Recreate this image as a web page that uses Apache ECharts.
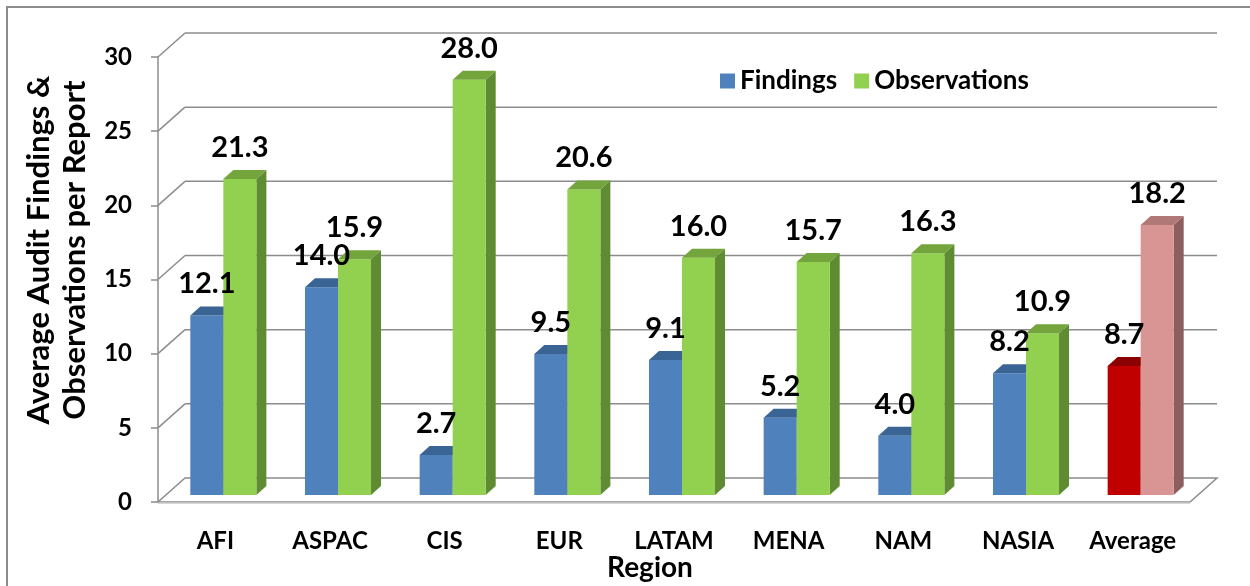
<!DOCTYPE html>
<html>
<head>
<meta charset="utf-8">
<title>Average Audit Findings &amp; Observations per Report</title>
<script src="https://cdn.jsdelivr.net/npm/echarts@6/dist/echarts.min.js"></script>
<style>
  html, body { margin: 0; padding: 0; background: #fff; }
  #chart { width: 1250px; height: 586px; }
</style>
</head>
<body>
<div id="chart"></div>
<script>
// data
var regions = ['AFI', 'ASPAC', 'CIS', 'EUR', 'LATAM', 'MENA', 'NAM', 'NASIA', 'Average'];
var findings = [12.1, 14.0, 2.7, 9.5, 9.1, 5.2, 4.0, 8.2, 8.7];
var observations = [21.3, 15.9, 28.0, 20.6, 16.0, 15.7, 16.3, 10.9, 18.2];
var yTicks = [0, 5, 10, 15, 20, 25, 30];

// fake 3d offsets (px)
var wallDepth = [27, -24];
var barShift = [8, -7];
var barDepth = [10, -9];

var findColor = { front: '#4F81BD', top: '#3A6493', side: '#375C88' };
var obsColor = { front: '#92D050', top: '#74A53D', side: '#5F8B32' };
var avgFindColor = { front: '#C00000', top: '#8B0000', side: '#900000' };
var avgObsColor = { front: '#D99594', top: '#B07877', side: '#8C5F5E' };

var gridColor = '#8C8C8C';

// front face box of one bar, side = -1 left of centre, 1 right of centre
function barBox(api, side) {
	var idx = api.value(0);
	var v = api.value(1);
	var base = api.coord([idx, 0]);
	var top = api.coord([idx, v]);
	var w = api.size([1, 0])[0] * 0.288;
	var x0 = base[0] + barShift[0] + (side < 0 ? -w : 0);
	return { idx: idx, v: v, x0: x0, x1: x0 + w, w: w, yb: base[1] + barShift[1], yt: top[1] + barShift[1] };
}

function labelText(b) {
	return { type: 'text', x: (b.x0 + b.x1) / 2, y: b.yt + barDepth[1] - 8, style: { text: b.v.toFixed(1), fill: '#000', font: 'bold 29px Lato', align: 'center', verticalAlign: 'bottom' } };
}

function barRender(side, normal, avg, withLabel) {
	return function (params, api) {
		var b = barBox(api, side);
		var c = b.idx === regions.length - 1 ? avg : normal;
		var dx = barDepth[0], dy = barDepth[1];
		var kids = [
			{ type: 'polygon', shape: { points: [[b.x1, b.yb], [b.x1 + dx, b.yb + dy], [b.x1 + dx, b.yt + dy], [b.x1, b.yt]] }, style: { fill: c.side } },
			{ type: 'rect', shape: { x: b.x0, y: b.yt, width: b.w, height: b.yb - b.yt }, style: { fill: c.front } },
			{ type: 'polygon', shape: { points: [[b.x0, b.yt], [b.x0 + dx, b.yt + dy], [b.x1 + dx, b.yt + dy], [b.x1, b.yt]] }, style: { fill: c.top } }
		];
		if (withLabel) kids.push(labelText(b));
		return { type: 'group', children: kids };
	};
}

function wallRender(params, api) {
	var v = api.value(1);
	var y = api.coord([0, v])[1];
	var cs = params.coordSys;
	var xl = cs.x, xr = cs.x + cs.width;
	var dx = wallDepth[0], dy = wallDepth[1];
	var kids = [];
	if (v === 0) {
		kids.push({ type: 'polygon', shape: { points: [[xl, y], [xr, y], [xr + dx, y + dy], [xl + dx, y + dy]] }, style: { fill: '#fff', stroke: gridColor, lineWidth: 1.5 } });
		kids.push({ type: 'line', shape: { x1: xl, y1: y + 1, x2: xr, y2: y + 1 }, style: { stroke: '#C8C8C8', lineWidth: 1.5 } });
	} else {
		kids.push({ type: 'line', shape: { x1: xl, y1: y, x2: xl + dx, y2: y + dy }, style: { stroke: gridColor, lineWidth: 1.5 } });
		kids.push({ type: 'line', shape: { x1: xl + dx, y1: y + dy, x2: xr + dx, y2: y + dy }, style: { stroke: gridColor, lineWidth: 1.5 } });
	}
	return { type: 'group', children: kids };
}

var chart = echarts.init(document.getElementById('chart'));
chart.setOption({
	animation: false,
	backgroundColor: '#fff',
	grid: { left: 158, right: 60, top: 57, bottom: 84 },
	legend: {
		data: ['Findings', 'Observations'],
		left: 715, top: 63,
		icon: 'rect', itemWidth: 15, itemHeight: 15, itemGap: 17,
		textStyle: { fontFamily: 'Lato', fontWeight: 'bold', fontSize: 26, color: '#000' }
	},
	xAxis: {
		type: 'category',
		data: regions,
		axisLine: { show: false },
		axisTick: { show: false },
		axisLabel: { interval: 0, margin: 27, color: '#000', fontFamily: 'Lato', fontWeight: 'bold', fontSize: 24 }
	},
	yAxis: {
		type: 'value',
		min: 0, max: 30, interval: 5,
		axisLine: { show: true, lineStyle: { color: gridColor, width: 1.5 } },
		axisTick: { show: true, length: 7, lineStyle: { color: gridColor, width: 1.5 } },
		splitLine: { show: false },
		axisLabel: { margin: 26, color: '#000', fontFamily: 'Lato', fontWeight: 'bold', fontSize: 24 }
	},
	graphic: [
		{ type: 'rect', shape: { x: 7, y: 7, width: 1300, height: 650 }, style: { fill: 'none', stroke: '#8C8C8C', lineWidth: 2 }, z: -1 },
		{ type: 'text', x: 57, y: 250, rotation: Math.PI / 2, style: { text: 'Average Audit Findings &\nObservations per Report', font: 'bold 31px Lato', lineHeight: 36, fill: '#000', align: 'center', verticalAlign: 'middle' } },
		{ type: 'text', x: 650, y: 568, style: { text: 'Region', font: 'bold 28px Lato', fill: '#000', align: 'center', verticalAlign: 'middle' } }
	],
	series: [
		{
			name: 'wall', type: 'custom', z: 1, silent: true,
			data: yTicks.map(function (v) { return [0, v]; }),
			renderItem: wallRender
		},
		{
			name: 'Findings', type: 'custom', z: 2,
			itemStyle: { color: findColor.front },
			data: regions.map(function (r, i) { return [i, findings[i]]; }),
			renderItem: barRender(-1, findColor, avgFindColor, false)
		},
		{
			name: 'Observations', type: 'custom', z: 3,
			itemStyle: { color: obsColor.front },
			data: regions.map(function (r, i) { return [i, observations[i]]; }),
			renderItem: barRender(1, obsColor, avgObsColor, true)
		},
		{
			// findings labels go on top of the green bars
			name: 'findingsLabels', type: 'custom', z: 4, silent: true,
			data: regions.map(function (r, i) { return [i, findings[i]]; }),
			renderItem: function (params, api) { return labelText(barBox(api, -1)); }
		}
	]
});
</script>
</body>
</html>
